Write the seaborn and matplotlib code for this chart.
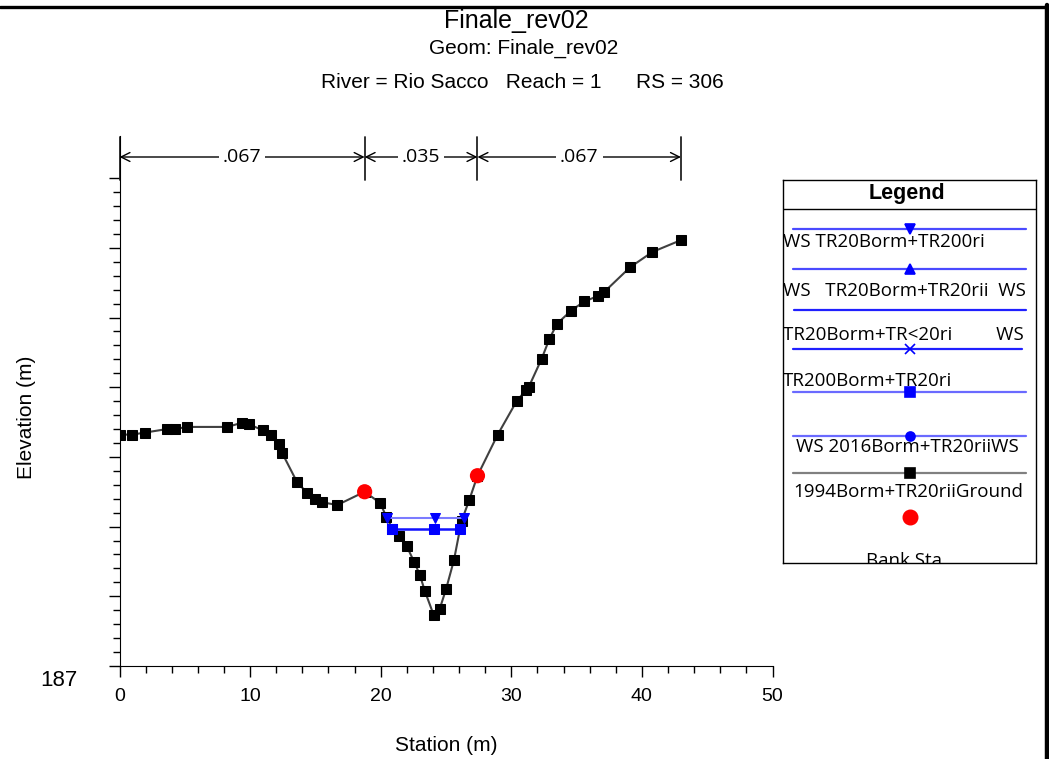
import matplotlib
matplotlib.use('Agg')
import matplotlib.pyplot as plt
from matplotlib.ticker import MultipleLocator, FixedLocator
from matplotlib.lines import Line2D
from matplotlib.font_manager import fontManager
import seaborn as sns

# ground profile (station m, elevation m)
ground_sta = [0.0, 0.98, 1.98, 3.66, 4.27, 5.17, 8.25, 9.38, 9.89, 10.99, 11.58, 12.21,
              12.47, 13.59, 14.38, 14.99, 15.48, 16.68, 18.77, 19.95, 20.44, 20.89, 21.40,
              21.99, 22.57, 22.99, 23.39, 24.06, 24.52, 25.00, 25.61, 26.19, 26.78, 27.41,
              28.96, 30.41, 31.13, 31.33, 32.33, 32.91, 33.50, 34.59, 35.59, 36.66, 37.08,
              39.09, 40.80, 42.99]
ground_elev = [190.32, 190.32, 190.35, 190.40, 190.40, 190.43, 190.43, 190.49, 190.47, 190.38,
               190.32, 190.18, 190.05, 189.64, 189.48, 189.40, 189.35, 189.31, 189.50, 189.34,
               189.14, 188.97, 188.86, 188.72, 188.49, 188.31, 188.07, 187.73, 187.82, 188.10,
               188.52, 189.08, 189.38, 189.73, 190.32, 190.80, 190.96, 191.00, 191.41, 191.69,
               191.91, 192.10, 192.23, 192.31, 192.36, 192.72, 192.94, 193.11]

bank_sta = [18.77, 27.41]
bank_elev = [189.50, 189.73]

ws1_sta = [20.46, 24.13, 26.38]
ws1_elev = [189.13, 189.13, 189.13]
ws2_sta = [20.89, 24.10, 26.05]
ws2_elev = [188.96, 188.96, 188.96]

mann_bounds = [0.0, 18.77, 27.41, 42.99]
mann_n = ['.067', '.035', '.067']

y_major = [187, 188, 189, 190, 191, 192, 193, 194]

legend_labels = ['WS TR20Borm+TR200ri', 'WS   TR20Borm+TR20rii  WS',
                 'TR20Borm+TR<20ri         WS', 'TR200Borm+TR20ri',
                 'WS 2016Borm+TR20riiWS', '1994Borm+TR20riiGround', 'Bank Sta']

sns.set_style('ticks')
names = {f.name for f in fontManager.ttflist}
title_font = 'Liberation Sans Narrow' if 'Liberation Sans Narrow' in names else 'Liberation Sans'
plt.rcParams['font.family'] = ['Liberation Sans', 'DejaVu Sans']
plt.rcParams.update({'text.color': 'black', 'axes.labelcolor': 'black',
                     'xtick.color': 'black', 'ytick.color': 'black',
                     'axes.edgecolor': 'black'})

W, H = 1049, 759
fig = plt.figure(figsize=(W / 100, H / 100), dpi=100)
ax = fig.add_axes([119.5 / W, (H - 666) / H, (772.5 - 119.5) / W, (666 - 136) / H])

sns.lineplot(x=ground_sta, y=ground_elev, sort=False, estimator=None, color='#404040',
             lw=1.5, marker='s', markersize=6.5, markerfacecolor='black',
             markeredgecolor='black', ax=ax)
sns.lineplot(x=ws1_sta, y=ws1_elev, sort=False, estimator=None, color='#7b7bff', lw=1.5,
             marker='v', markersize=6.5, markerfacecolor='blue', markeredgecolor='blue', ax=ax)
sns.lineplot(x=ws2_sta, y=ws2_elev, sort=False, estimator=None, color='#1010ff', lw=1.8,
             marker='s', markersize=6.5, markerfacecolor='blue', markeredgecolor='blue', ax=ax)
sns.scatterplot(x=bank_sta, y=bank_elev, color='#ff0000', s=120, edgecolor='none',
                zorder=5, ax=ax)

ax.set_xlim(0, 50)
ax.set_ylim(187, 187 + 530 / 69.7)
sns.despine(ax=ax)
ax.xaxis.set_major_locator(MultipleLocator(10))
ax.xaxis.set_minor_locator(MultipleLocator(2))
ax.yaxis.set_major_locator(FixedLocator(y_major))
ax.yaxis.set_minor_locator(FixedLocator([v + f for v in y_major[:-1]
                                         for f in (0.2, 0.4, 0.6, 0.8)]))
ax.tick_params(which='major', length=8, width=1, labelsize=14)
ax.tick_params(which='minor', length=5, width=1)
ax.tick_params(axis='x', pad=8)
ax.set_yticklabels([])
ax.annotate('187', xy=(0, 187), xycoords=('axes fraction', 'data'), xytext=(-61, -14),
            textcoords='offset pixels', ha='center', va='center', fontsize=16)
ax.set_xlabel('Station (m)', fontsize=15, labelpad=22)
ax.set_ylabel('Elevation (m)', fontsize=15)
ax.yaxis.set_label_coords(-84 / 653, 0.47)

# Manning's n bar
trans = ax.get_xaxis_transform()
for s in mann_bounds:
    ax.plot([s, s], [1 - 1 / 530, 1 - 44 / 530], color='#222222', lw=1.3,
            transform=trans, clip_on=False)
for i, n in enumerate(mann_n):
    a, b = mann_bounds[i], mann_bounds[i + 1]
    ax.annotate('', xy=(a, 1 - 21 / 530), xytext=(b, 1 - 21 / 530), xycoords=trans,
                textcoords=trans,
                arrowprops=dict(arrowstyle='<->', color='black', lw=1.0,
                                shrinkA=0, shrinkB=0, mutation_scale=16))
    ax.text((a + b) / 2, 1 - 21 / 530, n, transform=trans, ha='center', va='center',
            fontsize=14, family=['Open Sans', 'DejaVu Sans'],
            bbox=dict(facecolor='white', edgecolor='none', pad=3))

# titles
fig.text(516 / W, 1 - 28 / H, 'Finale_rev02', ha='center', va='baseline', fontsize=18,
         family=title_font)
fig.text(524 / W, 1 - 48.5 / H, 'Geom: Finale_rev02', ha='center', va='center',
         fontsize=15, family=title_font)
fig.text(522 / W, 1 - 82 / H, 'River = Rio Sacco   Reach = 1      RS = 306', ha='center',
         va='center', fontsize=15, family=title_font)

# legend panel
lg = fig.add_axes([783.3 / W, (H - 562.7) / H, (1036 - 783.3) / W, (562.7 - 180) / H])
lg.set_xlim(783.3, 1036)
lg.set_ylim(562.7, 180)
lg.set_xticks([])
lg.set_yticks([])
for sp in lg.spines.values():
    sp.set_visible(True)
    sp.set_linewidth(1.0)
    sp.set_color('black')
lg.plot([783.3, 1036], [209, 209], color='black', lw=1)
lg.text(907, 193, 'Legend', ha='center', va='center', fontsize=15.5, fontweight='bold',
        family=['Liberation Sans', 'DejaVu Sans'])
samples = [(228.7, '#4a4aff', 'v', 'blue', 793, 1026),
           (268.7, '#4a4aff', '^', 'blue', 793, 1026),
           (310.3, '#2020ff', None, 'blue', 794, 1026),
           (349.0, '#2020ff', 'x', 'blue', 793, 1022),
           (392.3, '#6a6aff', 's', 'blue', 793, 1026),
           (435.7, '#6a6aff', 'o', 'blue', 793, 1026),
           (472.7, '#808080', 's', 'black', 793, 1026)]
for y, c, m, mc, x0, x1 in samples:
    lg.plot([x0, x1], [y, y], color=c, lw=1.6)
    if m:
        lg.plot([909.7], [y], marker=m, color=mc, markersize=6.5, mew=1.2)
lg.plot([909.7], [516.7], marker='o', color='red', markersize=10.5)
lfont = ['Open Sans', 'DejaVu Sans']
text_pos = [(783, 241.7), (783, 290.7), (783, 335), (783, 381), (796, 446.7), (793, 492.3),
            (866, 561)]
for (x, y), t in zip(text_pos, legend_labels):
    lg.text(x, y, t, ha='left', va='center', fontsize=13.5, family=lfont, clip_on=True)

# outer frame
fig.add_artist(Line2D([0, 1], [1 - 6.5 / H, 1 - 6.5 / H], transform=fig.transFigure,
                      color='black', lw=2.4))
fig.add_artist(Line2D([1046.5 / W, 1046.5 / W], [0, 1 - 5 / H], transform=fig.transFigure,
                      color='black', lw=3.2))

fig.savefig('out.png', dpi=100)
